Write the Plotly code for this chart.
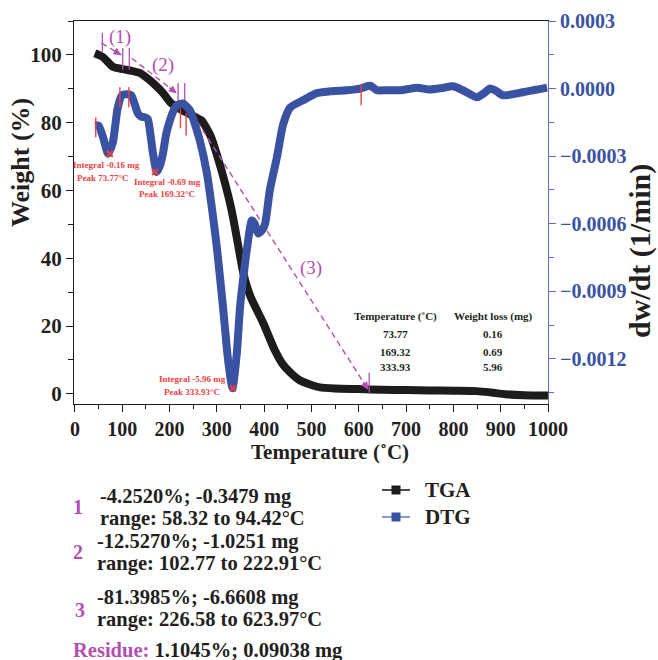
import math
import plotly.graph_objects as go

# ---------------- data ----------------
tga_temp = [42, 59, 80, 101, 120, 137, 152, 169, 186, 201, 218, 237, 258, 268, 287, 301,
            317, 331, 343, 356, 371, 398, 422, 438, 455, 475, 500, 518, 550, 600, 650,
            700, 750, 800, 850, 880, 910, 950, 1000]
tga_weight = [100.5, 99.4, 96.5, 95.8, 95.3, 94.7, 93.2, 91.2, 88.8, 86.1, 84.4, 82.9, 81.4,
              80.6, 76.0, 70.1, 62.3, 54.3, 45.4, 35.6, 28.7, 20.9, 13.0, 9.0, 6.3, 4.0,
              2.6, 1.9, 1.6, 1.4, 1.2, 1.1, 1.0, 0.9, 0.8, 0.4, -0.1, -0.4, -0.5]

dtg_temp = [42, 50, 60, 70, 80, 90, 99, 110, 119, 128, 133, 140, 148, 154, 160, 165, 173,
            180, 186, 193, 201, 208, 215, 228, 243, 254, 264, 279, 292, 300, 313, 324, 333,
            342, 349, 357, 364, 374, 380, 387, 395, 402, 412, 427, 440, 455, 482, 511, 540,
            575, 603, 617, 624, 638, 660, 687, 705, 723, 750, 775, 799, 820, 850, 865, 877,
            890, 905, 947, 998]
dtg_rate = [-0.000163, -0.000165, -0.00022, -0.000289, -0.00024, -0.00009, -0.00003,
            -0.000025, -0.00003, -0.00008, -0.00011, -0.000125, -0.000127, -0.000135,
            -0.00021, -0.000288, -0.00037, -0.00034, -0.000288, -0.0002, -0.00014, -0.0001,
            -0.000074, -0.000066, -0.000096, -0.00016, -0.00023, -0.000376, -0.00057,
            -0.000705, -0.00097, -0.00121, -0.00133, -0.00118, -0.00097, -0.00082,
            -0.000705, -0.000585, -0.0006, -0.000643, -0.00063, -0.0006, -0.00045,
            -0.000305, -0.00016, -0.000084, -0.000052, -0.00002, -0.000012, -0.0000075,
            0.0, 0.00001, 0.000013, -0.000007, -0.000007, -0.0000075, -0.000002, 0.000004,
            -0.000004, 0.000002, 0.00001, -0.0000075, -0.000038, -0.00002, 0.0, -0.00001,
            -0.00003, -0.000016, 0.000004]

peak_temp = [73.77, 169.32, 333.93]
peak_rate = [-0.000289, -0.00037, -0.00133]
integral_mg = ["-0.16", "-0.69", "-5.96"]
table_temp = ["73.77", "169.32", "333.93"]
table_loss = ["0.16", "0.69", "5.96"]

step_mark_temp = [58, 101, 115, 218, 232, 622]
step_mark_low = [100.6, 95.6, 95.6, 85.8, 85.8, 0.3]
step_mark_high = [106.5, 102.0, 102.0, 91.7, 91.7, 6.2]

dtg_mark_temp = [44, 95, 114, 223, 235, 605]
dtg_mark_low = [-0.000216, -0.000083, -0.000083, -0.000176, -0.000208, -0.000074]
dtg_mark_high = [-0.000128, 0.000006, 0.000006, -0.000088, -0.00011, 0.000019]

arrow_start_temp = [56, 120, 236]
arrow_start_weight = [103.5, 99.0, 85.3]
arrow_end_temp = [98, 215, 620]
arrow_end_weight = [100.0, 88.7, 1.2]
step_labels = ["(1)", "(2)", "(3)"]

step_loss = ["-4.2520%; -0.3479 mg", "-12.5270%; -1.0251 mg", "-81.3985%; -6.6608 mg"]
step_range = ["range: 58.32 to 94.42°C", "range: 102.77 to 222.91°C",
              "range: 226.58 to 623.97°C"]
residue_text = "1.1045%; 0.09038 mg"
legend_names = ["TGA", "DTG"]

x_ticks = list(range(0, 1001, 100))
w_ticks = list(range(0, 101, 20))
r_ticks = [-0.0012, -0.0009, -0.0006, -0.0003, 0.0, 0.0003]
r_ticktext = ["\u22120.0012", "\u22120.0009", "\u22120.0006", "\u22120.0003", "0.0000", "0.0003"]

# ---------------- styles ----------------
SERIF = "Liberation Serif, DejaVu Serif, serif"
BLACK = "#1d1b1b"
BLUE = "#3a52a2"
BLUE_AX = "#5a6db6"
BLUE_LEG = "#6f80c4"
RED = "#ec3f3f"
MAG = "#b24fb1"
TXT = "#231f20"

W_PX, H_PX = 658, 660
L, R, T, B = 74, 110, 21, 256
X_RANGE = [-2, 1000]
Y_RANGE = [-3, 110]
PW, PH = W_PX - L - R, H_PX - T - B


def paper(px, py):
    return (px - L) / PW, (H_PX - B - py) / PH


fig = go.Figure()
ann = []
shapes = []

fig.add_trace(go.Scatter(x=tga_temp, y=tga_weight, mode="lines", yaxis="y",
                         line=dict(color=BLACK, width=8, shape="spline", smoothing=0.6),
                         showlegend=False, hoverinfo="skip"))

# magenta step marks
mx, my = [], []
for t, lo, hi in zip(step_mark_temp, step_mark_low, step_mark_high):
    mx += [t, t, None]
    my += [lo, hi, None]
fig.add_trace(go.Scatter(x=mx, y=my, mode="lines", yaxis="y",
                         line=dict(color=MAG, width=1.3), showlegend=False, hoverinfo="skip"))

xs = PW / (X_RANGE[1] - X_RANGE[0])
ys = PH / (Y_RANGE[1] - Y_RANGE[0])
for x0, y0, x1, y1 in zip(arrow_start_temp, arrow_start_weight, arrow_end_temp, arrow_end_weight):
    fig.add_trace(go.Scatter(x=[x0, x1], y=[y0, y1], mode="lines", yaxis="y",
                             line=dict(color=MAG, width=1.4, dash="6px,4px"),
                             showlegend=False, hoverinfo="skip"))
    dxp, dyp = (x1 - x0) * xs, -(y1 - y0) * ys
    n = math.hypot(dxp, dyp)
    ann.append(dict(x=x1, y=y1, xref="x", yref="y",
                    ax=-dxp / n * 11, ay=-dyp / n * 11,
                    text="", showarrow=True, arrowhead=2, arrowsize=1.1,
                    arrowwidth=1.4, arrowcolor=MAG))

fig.add_trace(go.Scatter(x=dtg_temp, y=dtg_rate, mode="lines", yaxis="y2",
                         line=dict(color=BLUE, width=8, shape="spline", smoothing=0.6),
                         showlegend=False, hoverinfo="skip"))

rx, ry = [], []
for t, lo, hi in zip(dtg_mark_temp, dtg_mark_low, dtg_mark_high):
    rx += [t, t, None]
    ry += [lo, hi, None]
fig.add_trace(go.Scatter(x=rx, y=ry, mode="lines", yaxis="y2",
                         line=dict(color=RED, width=1.4), showlegend=False, hoverinfo="skip"))
fig.add_trace(go.Scatter(x=peak_temp, y=peak_rate, mode="markers", yaxis="y2",
                         marker=dict(symbol="x-thin", size=6, line=dict(color=RED, width=2)),
                         showlegend=False, hoverinfo="skip"))


def add_text(px, py, text, font, xanchor="center", **kw):
    x, y = paper(px, py)
    d = dict(x=x, y=y, xref="paper", yref="paper", text=text, showarrow=False, font=font,
             xanchor=xanchor, yanchor="middle")
    d.update(kw)
    ann.append(d)


# axis titles
add_text(20, 163, "Weight (%)", dict(family=SERIF, size=26, color=TXT, weight="bold"), textangle=-90)
add_text(640, 251, "dw/dt (1/min)", dict(family=SERIF, size=30, color=TXT, weight="bold"), textangle=-90)
add_text(330, 452, "Temperature (˚C)", dict(family=SERIF, size=21, color=TXT, weight="bold"))

# step labels
label_pos = [(120, 37), (163, 65), (311, 268)]
for lab, (px, py) in zip(step_labels, label_pos):
    add_text(px, py, lab, dict(family=SERIF, size=19, color=MAG))

# red peak annotations
rfont = dict(family=SERIF, size=9, color=RED, weight="bold")
red_pos = [((106, 165), (103, 178)), ((167, 182), (167, 194)), ((192, 379), (192, 392))]
for (p1, p2), mg, pk in zip(red_pos, integral_mg, peak_temp):
    add_text(*p1, f"Integral {mg} mg", rfont)
    add_text(*p2, f"Peak {pk:.2f}°C", rfont)

# table
tfont = dict(family=SERIF, size=11, color=TXT, weight="bold")
add_text(395, 316, "Temperature (˚C)", tfont)
add_text(493, 316, "Weight loss (mg)", tfont)
for i, py in enumerate([334, 351.5, 366.5]):
    add_text(395, py, table_temp[i], tfont)
    add_text(493, py, table_loss[i], tfont)

# bottom step summary
bfont = dict(family=SERIF, size=20.5, color=TXT, weight="bold")
num_pos = [(78, 507), (78, 552), (80, 610)]
line_pos = [((98, 496), (98, 518)), ((95, 541), (95, 563)), ((95, 597), (95, 619))]
for i in range(3):
    add_text(*num_pos[i], str(i + 1), dict(family=SERIF, size=20, color=MAG, weight="bold"))
    for txt, (px, py) in zip((step_loss[i], step_range[i]), line_pos[i]):
        add_text(px, py, txt, bfont, xanchor="left")
add_text(71, 650, f"<span style='color:{MAG}'>Residue:</span> {residue_text}", bfont, xanchor="left")

# manual legend
leg_rows = [(490, BLACK, BLACK), (517, BLUE_LEG, BLUE)]
for name, (py, lc, mc) in zip(legend_names, leg_rows):
    x0, y0 = paper(382, py)
    x1, _ = paper(410, py)
    shapes.append(dict(type="line", xref="paper", yref="paper", x0=x0, x1=x1, y0=y0, y1=y0,
                       line=dict(color=lc, width=1.6)))
    sx0, sy0 = paper(391.5, py + 4.5)
    sx1, sy1 = paper(400.5, py - 4.5)
    shapes.append(dict(type="rect", xref="paper", yref="paper", x0=sx0, x1=sx1, y0=sy0, y1=sy1,
                       line=dict(width=0), fillcolor=mc))
    add_text(423, py, name, dict(family=SERIF, size=21, color=TXT, weight="bold"), xanchor="left")

axis_common = dict(showgrid=False, zeroline=False, automargin=False, ticks="outside",
                   ticklen=7, tickwidth=1.2)

fig.update_layout(
    width=W_PX, height=H_PX, autosize=False,
    margin=dict(l=L, r=R, t=T, b=B),
    paper_bgcolor="white", plot_bgcolor="white",
    font=dict(family=SERIF, color=TXT),
    showlegend=False,
    xaxis=dict(range=X_RANGE, tickvals=x_ticks, showline=True, linecolor=BLACK, linewidth=1.2,
               mirror=True, tickcolor=BLACK,
               minor=dict(dtick=50, ticks="outside", ticklen=4, tickcolor=BLACK),
               tickfont=dict(family=SERIF, size=20, color=TXT, weight="bold"),
               **axis_common),
    yaxis=dict(range=Y_RANGE, tickvals=w_ticks, showline=True, linecolor=BLACK, linewidth=1.2,
               tickcolor=BLACK,
               minor=dict(dtick=10, ticks="outside", ticklen=5, tickcolor=BLACK),
               tickfont=dict(family=SERIF, size=21, color=TXT, weight="bold"),
               **axis_common),
    yaxis2=dict(range=[-0.0014, 0.0003], overlaying="y", side="right",
                tickvals=r_ticks, ticktext=r_ticktext,
                showline=True, linecolor=BLUE_AX, linewidth=1.2, tickcolor=BLUE_AX,
                minor=dict(dtick=0.00015, ticks="outside", ticklen=5, tickcolor=BLUE_AX),
                tickfont=dict(family=SERIF, size=20, color=BLUE, weight="bold"),
                **axis_common),
    annotations=ann,
    shapes=shapes,
)

fig.write_html("out.html")
